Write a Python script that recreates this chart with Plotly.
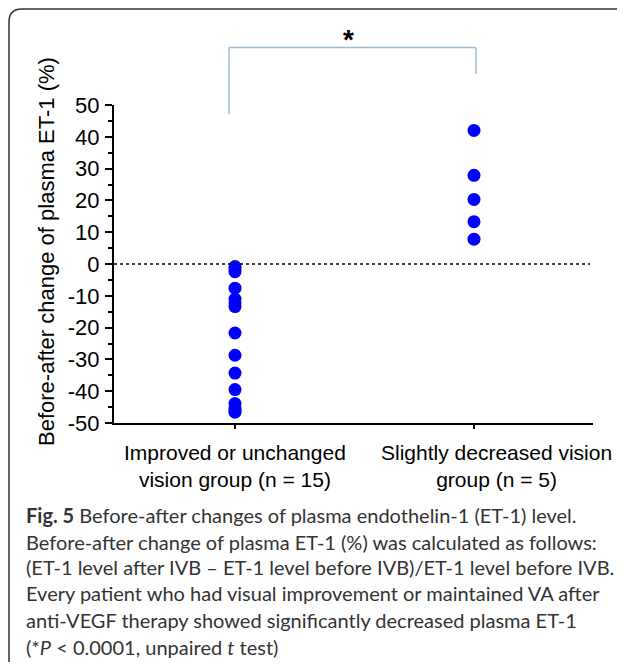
import plotly.graph_objects as go

# ---- data ----
categories = ["Improved or unchanged<br>vision group (n = 15)",
              "Slightly decreased vision<br>group (n = 5)"]
group1_values = [-0.8, -1.6, -2.4, -7.6, -11.0, -12.2, -13.4, -21.7,
                 -28.7, -34.3, -39.5, -43.9, -45.2, -46.6, -46.0]
group2_values = [42.0, 27.9, 20.3, 13.3, 7.8]
y_ticks = [-50, -40, -30, -20, -10, 0, 10, 20, 30, 40, 50]
y_tick_labels = ["-50", "-40", "-30", "-20", "-10", "0", "10", "20", "30", "40", "50"]
y_title = "Before-after change of plasma ET-1 (%)"
significance = "<b>*</b>"
caption_lines = [
    "<b>Fig. 5</b> Before-after changes of plasma endothelin-1 (ET-1) level.",
    "Before-after change of plasma ET-1 (%) was calculated as follows:",
    "(ET-1 level after IVB – ET-1 level before IVB)/ET-1 level before IVB.",
    "Every patient who had visual improvement or maintained VA after",
    "anti-VEGF therapy showed significantly decreased plasma ET-1",
    "(*<i>P</i> < 0.0001, unpaired <i>t</i> test)",
]

# page body has an 8px margin; work in screen pixels and compensate
OFF = 8
W, H = 625 - OFF, 664 - OFF
L, R, T, B = 114 - OFF, 32, 105 - OFF, 241
PW, PH = W - L - R, H - T - B


def px(x):
    return (x - OFF - L) / PW


def py(y):
    return (H - B - (y - OFF)) / PH


fig = go.Figure()
fig.add_trace(go.Scatter(x=[1] * len(group1_values), y=group1_values, mode="markers",
                         marker=dict(color="#0000FF", size=13), showlegend=False,
                         hoverinfo="y"))
fig.add_trace(go.Scatter(x=[2] * len(group2_values), y=group2_values, mode="markers",
                         marker=dict(color="#0000FF", size=13), showlegend=False,
                         hoverinfo="y"))

font_main = "Liberation Sans, Arial, sans-serif"

fig.update_layout(
    width=W, height=H,
    margin=dict(l=L, r=R, t=T, b=B, pad=0),
    paper_bgcolor="white", plot_bgcolor="white",
    font=dict(family=font_main, color="black"),
    xaxis=dict(range=[1 - 121 / 239, 2 + 119 / 239], tickvals=[1, 2], showticklabels=False,
               ticks="outside", ticklen=4, tickwidth=1.5, tickcolor="black",
               showline=True, linecolor="black", linewidth=2, showgrid=False, zeroline=False,
               fixedrange=True),
    yaxis=dict(range=[-50, 50], tickvals=y_ticks, ticktext=y_tick_labels, ticks="outside",
               ticklen=7, tickwidth=2,
               tickcolor="black", showline=True, linecolor="black", linewidth=2,
               showgrid=False, zeroline=False, ticklabelstandoff=1,
               tickfont=dict(size=22, family=font_main, color="black"),
               minor=dict(dtick=5, tick0=0, ticks="outside", ticklen=4, tickwidth=1.5,
                          tickcolor="black", showgrid=False),
               fixedrange=True),
)

shapes = []
# zero dotted line
shapes.append(dict(type="line", xref="paper", yref="y", x0=0, x1=px(590), y0=0, y1=0,
                   line=dict(color="black", width=1.5, dash="dot")))
# significance bracket
bc = "#9DBAD5"
shapes.append(dict(type="line", xref="paper", yref="paper", x0=px(229), x1=px(229),
                   y0=py(114), y1=py(47.5), line=dict(color=bc, width=1.5)))
shapes.append(dict(type="line", xref="paper", yref="paper", x0=px(229), x1=px(476),
                   y0=py(47.5), y1=py(47.5), line=dict(color=bc, width=1.5)))
shapes.append(dict(type="line", xref="paper", yref="paper", x0=px(476), x1=px(476),
                   y0=py(47.5), y1=py(74), line=dict(color=bc, width=1.5)))
# figure frame (rounded top-left corner)
path = (f"M {px(9)},{py(662)} L {px(9)},{py(22)} Q {px(9)},{py(9)} {px(22)},{py(9)} "
        f"L {px(630)},{py(9)}")
shapes.append(dict(type="path", xref="paper", yref="paper", path=path,
                   line=dict(color="#333333", width=1.5)))
fig.update_layout(shapes=shapes)

ann = []
# category labels
cat_centers = [235, 496]
for c, xc in zip(categories, cat_centers):
    ann.append(dict(xref="paper", yref="paper", x=px(xc), y=py(466), text=c, showarrow=False,
                    xanchor="center", yanchor="middle", align="center",
                    font=dict(size=21, family=font_main, color="black")))
# y title
ann.append(dict(xref="paper", yref="paper", x=px(46), y=py(252), text=y_title, showarrow=False,
                textangle=-90, xanchor="center", yanchor="middle",
                font=dict(size=22, family=font_main, color="black")))
# star
ann.append(dict(xref="paper", yref="paper", x=px(348), y=py(39), text=significance,
                showarrow=False, xanchor="center", yanchor="middle",
                font=dict(size=28, family=font_main, color="black")))
# caption
cap_y = [515, 542, 567, 593, 620, 647]
for line, yy in zip(caption_lines, cap_y):
    ann.append(dict(xref="paper", yref="paper", x=px(24), y=py(yy), text=line, showarrow=False,
                    xanchor="left", yanchor="middle", align="left",
                    font=dict(size=20, family="Lato, sans-serif", color="#333333")))
fig.update_layout(annotations=ann)

fig.write_html("out.html")
